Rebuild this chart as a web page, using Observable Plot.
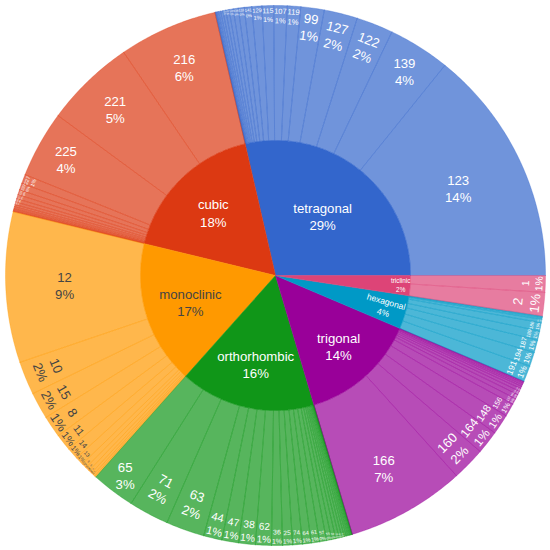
<!DOCTYPE html>
<html>
<head>
<meta charset="utf-8">
<script src="https://cdn.jsdelivr.net/npm/d3@7"></script>
<script src="https://cdn.jsdelivr.net/npm/@observablehq/plot@0.6"></script>
<style>
  html, body { margin: 0; padding: 0; background: #ffffff; }
  #chart svg { display: block; }
</style>
</head>
<body>
<div id="chart"></div>
<script>
// ---- data: crystal systems (inner ring) ----
const systems = ["tetragonal", "cubic", "monoclinic", "orthorhombic", "trigonal", "hexagonal", "triclinic"];
const systemColors = ["#3366CC", "#DC3912", "#FF9900", "#109618", "#990099", "#0099C6", "#DD4477"];

// ---- data: space groups (outer ring), shares in % of all entries ----
const tetragonalGroups = ["123","139","122","127","99","119","107","115","129","141","131","136","140","137","113","125","114","121","111","88","82","87"];
const tetragonalShares = [14.2,3.7,2.2,2.0,1.4,0.8,0.8,0.7,0.6,0.45,0.35,0.3,0.25,0.2,0.17,0.14,0.11,0.08,0.06,0.04,0.03,0.02];

const cubicGroups = ["216","221","225","227","229","223","217","220","198","205","200","204","230","212","215"];
const cubicShares = [5.9,5.4,4.0,0.55,0.4,0.3,0.25,0.2,0.16,0.13,0.1,0.08,0.06,0.04,0.03];

const monoclinicGroups = ["12","10","15","8","11","14","13","9","5","6","4","3","7"];
const monoclinicShares = [9.0,2.0,1.6,1.3,1.0,0.7,0.5,0.3,0.25,0.2,0.15,0.12,0.08];

const orthorhombicGroups = ["65","71","63","44","47","38","62","36","25","74","64","61","57","55","59","58","60","33","19","29","31","51","72","43","70","20","52"];
const orthorhombicShares = [2.6,2.4,2.3,1.1,1.0,1.0,0.95,0.65,0.6,0.58,0.52,0.5,0.42,0.3,0.25,0.2,0.17,0.15,0.12,0.1,0.08,0.06,0.05,0.04,0.02,0.01,0.01];

const trigonalGroups = ["166","160","164","148","156","167","146","161","155","163","150","162","165","159","147"];
const trigonalShares = [7.1,2.0,1.4,1.2,0.8,0.35,0.28,0.22,0.18,0.14,0.11,0.09,0.07,0.04,0.02];

const hexagonalGroups = ["191","194","187","189","186","190","176","185","193"];
const hexagonalShares = [0.95,0.85,0.75,0.55,0.5,0.2,0.1,0.06,0.04];

const triclinicGroups = ["2","1"];
const triclinicShares = [1.4,1.0];

const groupsBySystem = [tetragonalGroups, cubicGroups, monoclinicGroups, orthorhombicGroups, trigonalGroups, hexagonalGroups, triclinicGroups];
const sharesBySystem = [tetragonalShares, cubicShares, monoclinicShares, orthorhombicShares, trigonalShares, hexagonalShares, triclinicShares];

// ---- layout constants ----
const R1 = 270, R0 = 135;            // outer radius, inner ring radius
const FONT = 13.2, LH = 1.3, TEXTPAD = 3;
const FAMILY = '"Liberation Sans", Arial, sans-serif';
const STEP = Math.PI / 360;
const DEG = 180 / Math.PI;

const total = d3.sum(sharesBySystem.flat());
const pct = v => Math.round(100 * v / total) + "%";

const ctx = document.createElement("canvas").getContext("2d");
ctx.font = `${FONT}px ${FAMILY}`;
function textBox(lines) {
  return { w: d3.max(lines, l => ctx.measureText(l).width), h: lines.length * FONT * LH };
}
function contrast(c) {
  const { r, g, b } = d3.rgb(c);
  return (r * 299 + g * 587 + b * 114) / 1000 >= 128 ? "#444444" : "#ffffff";
}
function norm(t) { return (((t + 90) % 180) + 180) % 180 - 90; }

// sunburst-style inside text fitting (horizontal / radial / tangential)
function placeText(lines, r0, r1, a0, a1) {
  const box = textBox(lines);
  const half = Math.min((a1 - a0) / 2, Math.PI / 2);
  const mid = (a0 + a1) / 2;
  const ring = 1 - r0 / r1;
  const rIns = Math.max(0, Math.min(1 / (1 + 1 / Math.sin(half)), ring / 2));
  const diam = Math.hypot(box.w, box.h);
  const hz = { scale: rIns * r1 * 2 / diam, rc: 1 - rIns, rot: 0 };
  let best = hz;
  if (hz.scale < 1) {
    const rr = Math.max(0, r1 - 2 * TEXTPAD);
    const maxHalf = a => {
      const q = a + 1 / (2 * Math.tan(half));
      return rr * Math.min(1 / (Math.sqrt(q * q + 0.5) + q), ring / (Math.sqrt(a * a + ring / 2) + a));
    };
    const ar = box.w / box.h, sr = maxHalf(ar);
    const rad = { scale: sr * 2 / box.h, rc: Math.cos(sr / rr) - ar * sr / rr, rot: norm(-mid * DEG) };
    const at = box.h / box.w, st = maxHalf(at);
    const tan = { scale: st * 2 / box.w, rc: Math.cos(st / rr) - at * st / rr, rot: norm(90 - mid * DEG) };
    best = rad.scale >= tan.scale ? rad : tan;
    if (hz.scale >= 0.7 * best.scale) best = { ...hz, scale: best.scale };
  }
  return {
    x: r1 * Math.cos(mid) * best.rc,
    y: r1 * Math.sin(mid) * best.rc,
    size: FONT * Math.min(1, best.scale),
    rotate: best.rot
  };
}

function arcPoints(id, r0, r1, a0, a1, color) {
  const n = Math.max(2, Math.ceil((a1 - a0) / STEP) + 1);
  const pts = [];
  for (let k = 0; k < n; k++) {
    const a = a0 + (a1 - a0) * k / (n - 1);
    pts.push({ id, color, x: r1 * Math.cos(a), y: r1 * Math.sin(a) });
  }
  if (r0 === 0) pts.push({ id, color, x: 0, y: 0 });
  else for (let k = n - 1; k >= 0; k--) {
    const a = a0 + (a1 - a0) * k / (n - 1);
    pts.push({ id, color, x: r0 * Math.cos(a), y: r0 * Math.sin(a) });
  }
  pts.push({ ...pts[0] });
  return pts;
}

const innerPts = [], outerPts = [], texts = [];
let acc = 0;
systems.forEach((name, i) => {
  const color = systemColors[i];
  const tcolor = contrast(color);
  const sv = d3.sum(sharesBySystem[i]);
  const a0 = acc / total * 2 * Math.PI, a1 = (acc + sv) / total * 2 * Math.PI;
  innerPts.push(...arcPoints("s" + i, 0, R0, a0, a1, color));
  const lines = [name, pct(sv)];
  texts.push({ ...placeText(lines, 0, R0, a0, a1), text: lines.join("\n"), color: tcolor });
  let cacc = acc;
  groupsBySystem[i].forEach((g, j) => {
    const v = sharesBySystem[i][j];
    const b0 = cacc / total * 2 * Math.PI, b1 = (cacc + v) / total * 2 * Math.PI;
    outerPts.push(...arcPoints(`s${i}g${j}`, R0, R1, b0, b1, color));
    const gl = [g, pct(v)];
    const t = placeText(gl, R0, R1, b0, b1);
    if (t.size >= 1.5) texts.push({ ...t, text: gl.join("\n"), color: tcolor });
    cacc += v;
  });
  acc += sv;
});

const chart = Plot.plot({
  width: 550,
  height: 550,
  margin: 0,
  x: { domain: [-275, 275], axis: null },
  y: { domain: [-275, 275], axis: null },
  color: { type: "identity" },
  marks: [
    Plot.line(outerPts, { x: "x", y: "y", z: "id", fill: "color", stroke: "color", fillOpacity: 0.7, strokeOpacity: 0.55, strokeWidth: 0.6, curve: "linear" }),
    Plot.line(innerPts, { x: "x", y: "y", z: "id", fill: "color", stroke: "color", strokeWidth: 0.5, curve: "linear" }),
    Plot.text(texts, { x: "x", y: "y", text: "text", fontSize: "size", rotate: "rotate", fill: "color", lineHeight: LH, fontFamily: FAMILY })
  ]
});
document.getElementById("chart").appendChild(chart);
</script>
</body>
</html>
